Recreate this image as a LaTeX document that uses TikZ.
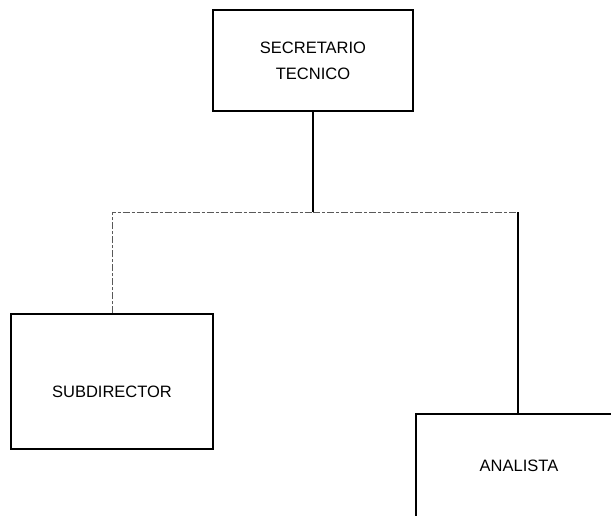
\documentclass[tikz,border=0pt]{standalone}
\usepackage{fontspec}
\setmainfont{Liberation Sans}

\tikzset{
  organigrama/.style={
    box/.style={draw=black,line width=1.3pt,rectangle,inner sep=2pt,align=center,
        font=\fontsize{16.5}{26}\selectfont},
    label text/.style={inner sep=0pt,font=\fontsize{16.5}{26}\selectfont},
    link/.style={draw=black,line width=1.3pt},
    faint/.style={draw=black!65,line width=0.9pt,dash pattern=on 7pt off 2pt on 3pt off 2pt},
  }
}

\begin{document}
\begin{tikzpicture}[x=1pt, y=-1pt, organigrama]
            \useasboundingbox (0,0) rectangle (611,515);
            \clip (0,0) rectangle (611,515);
            \node[box, minimum width=200pt, minimum height=101pt] (sec) at (313,60.5) {SECRETARIO\\TECNICO};
            \node[box, minimum width=202pt, minimum height=135pt] (sub) at (112,381.5) {};
            \node[label text] (subtxt) at (112,392) {SUBDIRECTOR};
            \node[box, minimum width=204pt, minimum height=135pt] (ana) at (518,481.5) {};
            \node[label text] (anatxt) at (519,466) {ANALISTA};
            \coordinate (bar) at (313,212);

            \draw[link] (sec.south) -- (bar);

            \draw[faint] (sub.north) |- (bar);
            \draw[faint] (bar) -- (bar -| ana.north);

            \draw[link] (bar -| ana.north) -- (ana.north);
        \end{tikzpicture}
\end{document}
